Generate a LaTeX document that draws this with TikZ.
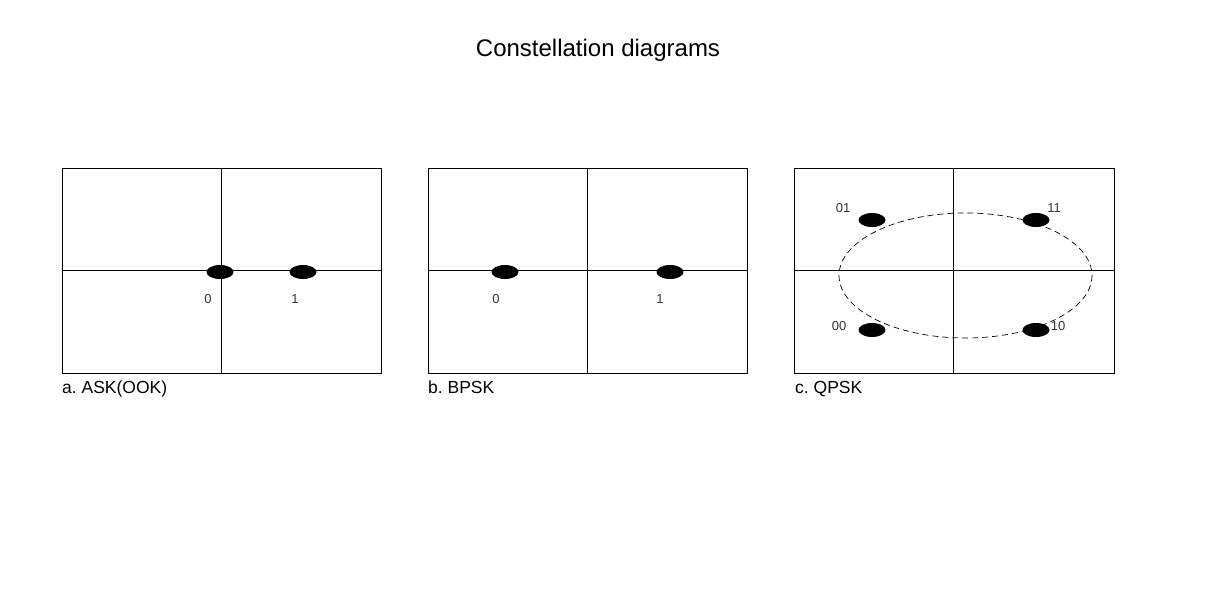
\documentclass[tikz,border=0pt]{standalone}
\usepackage{fontspec}
\setmainfont{Liberation Sans}
\usetikzlibrary{shapes.geometric}
\frenchspacing
\begin{document}
\begin{tikzpicture}[x=1pt,y=-1pt,
  panel/.style={draw=black,line width=0.9pt},
  axis/.style={draw=black,line width=0.9pt},
  dot/.style={ellipse,fill=black,minimum width=27pt,minimum height=14pt,inner sep=0pt},
  lbl/.style={font=\fontsize{13}{15}\selectfont,text=black!80,inner sep=0pt,anchor=base},
  captext/.style={font=\fontsize{17.5}{20}\selectfont,anchor=base west,inner sep=0pt},
  ttl/.style={font=\fontsize{24}{28}\selectfont,inner sep=0pt,anchor=base}]
\useasboundingbox[fill=white] (0,0) rectangle (1221,610);
\node[ttl] (title) at (598,57) {Constellation diagrams};
% panel a
\draw[panel] (62,168) rectangle (381,373);
\draw[axis] (221,168) -- (221,373);
\draw[axis] (62,270) -- (381,270);
\node[dot] (a0) at (220,272) {};
\node[dot] (a1) at (303,272) {};
\node[lbl] (la0) at (208,303) {0};
\node[lbl] (la1) at (295,303) {1};
\node[captext] (capa) at (62,393) {a.\ ASK(OOK)};
% panel b
\draw[panel] (428,168) rectangle (747,373);
\draw[axis] (587,168) -- (587,373);
\draw[axis] (428,270) -- (747,270);
\node[dot] (b0) at (505,272) {};
\node[dot] (b1) at (670,272) {};
\node[lbl] (lb0) at (496,303) {0};
\node[lbl] (lb1) at (660,303) {1};
\node[captext] (capb) at (428,393) {b.\ BPSK};
% panel c
\draw[panel] (794,168) rectangle (1114,373);
\draw[axis] (953,168) -- (953,373);
\draw[axis] (794,270) -- (1114,270);
\draw[dash pattern=on 6pt off 4pt,line width=0.7pt] (965.5,275.5) ellipse [x radius=126.5,y radius=62.5];
\node[dot] (c01) at (872,220) {};
\node[dot] (c11) at (1036,220) {};
\node[dot] (c00) at (872,330) {};
\node[dot] (c10) at (1036,330) {};
\node[lbl] (l01) at (843,212) {01};
\node[lbl] (l11) at (1054,212) {11};
\node[lbl] (l00) at (839,330) {00};
\node[lbl] (l10) at (1058,330) {10};
\node[captext] (capc) at (795,393) {c.\ QPSK};
\end{tikzpicture}
\end{document}
